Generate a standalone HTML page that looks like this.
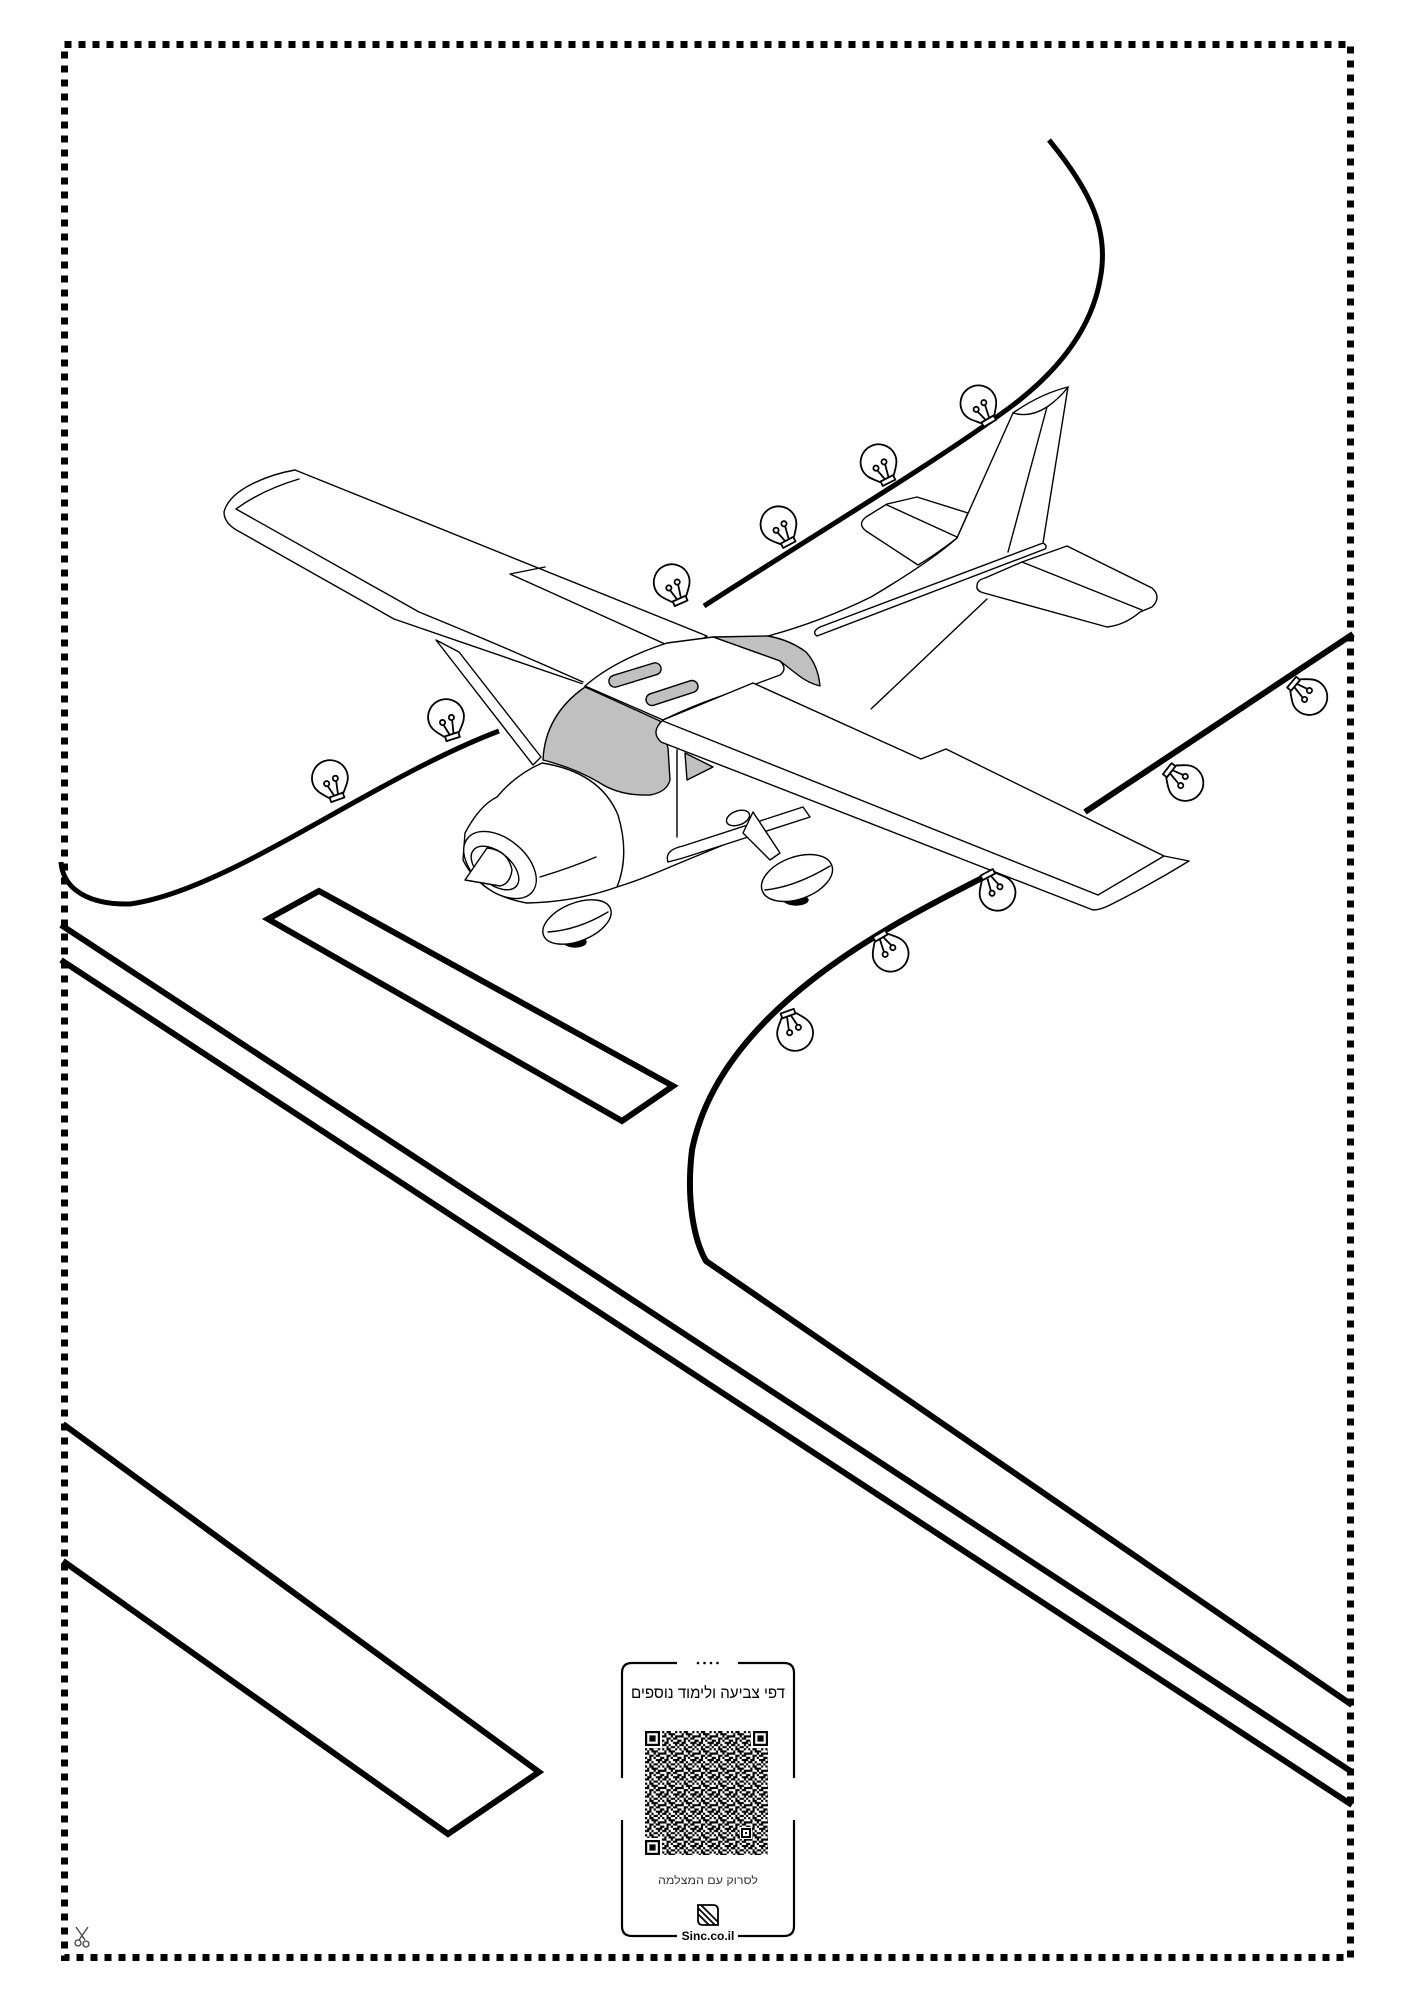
<!DOCTYPE html>
<html><head><meta charset="utf-8"><style>
html,body{margin:0;padding:0;background:#fff;}
svg{display:block;}
</style></head><body>
<svg width="1414" height="2000" viewBox="0 0 1414 2000" xmlns="http://www.w3.org/2000/svg">
<defs>
<pattern id="qr" x="645" y="1731" width="17.2" height="17.2" patternUnits="userSpaceOnUse">
<path transform="scale(2.15)" fill="#000" d="M0 0h1v1h-1z M2 0h2v1h-2z M6 0h1v1h-1z M1 1h1v1h-1z M3 1h3v1h-3z M0 2h2v1h-2z M4 2h1v1h-1z M6 2h2v1h-2z M2 3h2v1h-2z M5 3h2v1h-2z M0 4h1v1h-1z M2 4h1v1h-1z M4 4h1v1h-1z M7 4h1v1h-1z M1 5h2v1h-2z M5 5h3v1h-3z M0 6h2v1h-2z M3 6h1v1h-1z M6 6h1v1h-1z M2 7h1v1h-1z M4 7h2v1h-2z M7 7h1v1h-1z"/>
</pattern>
</defs>
<rect width="1414" height="2000" fill="#fff"/>

<!-- dotted border -->
<rect x="64.5" y="44.5" width="1286" height="1913" fill="none" stroke="#000" stroke-width="7" stroke-dasharray="7 7"/>

<!-- thick ground lines -->
<g fill="none" stroke="#000" stroke-width="6" stroke-linecap="butt" stroke-linejoin="miter">
<path d="M61,925 L1352,1772"/>
<path d="M61,960 L1352,1805"/>
<path d="M984,877 C890,925 720,1010 692,1150 C686,1200 694,1240 706,1261 L1352,1705"/>
<path d="M63,1424 L539,1772 L448,1834 L63,1561"/>
<path d="M268,919 L319,891 L673,1086 L622,1121 Z"/>
<path d="M1085,812 L1353,634"/>
<path stroke-width="5" d="M61,862 C63,890 90,905 130,904 C230,890 370,780 499,731"/>
</g>

<!-- plane -->
<g fill="#fff" stroke="#000" stroke-width="1.4" stroke-linejoin="round" stroke-linecap="round">
<!-- tail cone fill -->
<path stroke="none" d="M768,636 L871,597 L957,538 L1043,541 L1046,548 L987,599 L871,709 L760,700 Z"/>
<!-- left stabilizer -->
<path d="M887,504 L917,497 L968,513 L957,538 Q935,555 918,565 L866,531 Q857,524 866,517 Z"/>
<path fill="none" d="M887,505 L957,537"/>
<!-- tail cone lines -->
<path fill="none" d="M768,636 Q820,622 871,597 Q930,562 957,538"/>
<path d="M817,636 Q811,632 820,627 L1043,543 Q1048,546 1045,549 Z"/>
<path fill="none" d="M987,599 L871,709"/>
<!-- fin -->
<path stroke="none" d="M957,538 L1013,413 Q1040,394 1068,387 L1043,543 Z"/>
<path fill="none" d="M957,538 L1013,413 Q1040,394 1068,387 L1043,543"/>
<path fill="none" d="M1013,413 Q1030,418 1047,407 Q1060,398 1068,387 M1047,407 L1008,552"/>
<!-- right stabilizer -->
<path d="M977,586 Q977,580 985,578 L1022,562 L1067,546 L1152,588 Q1162,597 1152,607 L1140,612 Q1125,625 1107,627 L984,593 Q976,591 977,586 Z"/>
<path fill="none" d="M1022,562 L1142,610"/>

<!-- left wing -->
<path d="M295,470 L707,636 L640,680 L583,684 L394,619 L240,532 Q224,524 224,512 Q228,496 252,484 Q272,474 295,470 Z"/>
<path fill="none" d="M299,479 Q262,490 236,509 L419,612 Q500,645 583,682 M545,567 L510,574 L665,644"/>
<!-- strut -->
<path d="M436,640 L459,652 L541,757 L533,765 Z"/>

<!-- fuselage fill -->
<path stroke="none" d="M583,683 L667,643 L760,640 L871,709 L803,812 L670,867 L617,887 L527,903 L463,853 L465,833 L497,797 L542,763 Z"/>
<!-- rear window -->
<path fill="#c0c0c0" d="M713,637 L768,636 Q790,640 806,652 Q818,665 820,686 Q808,683 798,675 L780,661 Z"/>
<!-- windshield -->
<path fill="#c0c0c0" d="M585,687 L660,721 L668,748 L670,780 Q667,792 650,795 Q620,796 600,783 Q575,768 543,760 Q545,715 585,687 Z"/>
<!-- roof -->
<path d="M585,686 Q615,660 667,643 L713,637 L780,661 Q788,669 780,675 L745,688 Q700,702 663,720 Z"/>
<rect x="608" y="669" width="54" height="12" rx="6" fill="#c0c0c0" transform="rotate(-17 635 675)"/>
<rect x="645" y="687" width="54" height="12" rx="6" fill="#c0c0c0" transform="rotate(-18 672 693)"/>
<!-- under-wing gray -->
<path fill="#c0c0c0" d="M685,753 L713,767 L687,780 Z"/>
<path fill="none" d="M677,750 L677,837"/>

<!-- gear -->
<ellipse cx="738" cy="818" rx="12" ry="7" transform="rotate(-20 738 818)"/>
<path fill="none" d="M617,887 Q640,880 670,867 L803,812"/>
<path d="M668,862 Q664,850 683,846 L803,807 L810,817 L683,858 Z"/>
<path d="M753,812 L780,853 L770,860 L743,833 Z"/>
<ellipse cx="796" cy="900" rx="12" ry="5" fill="#000"/>
<ellipse cx="797" cy="878" rx="37" ry="21" transform="rotate(-20 797 878)"/>
<path fill="none" d="M765,890 Q795,887 830,866"/>

<!-- cowling -->
<ellipse cx="575" cy="942" rx="11" ry="5" fill="#000"/>
<ellipse cx="577" cy="922" rx="36" ry="19" transform="rotate(-22 577 922)"/>
<path fill="none" d="M548,932 Q578,930 608,912"/>
<path d="M542,763 Q600,772 618,815 Q630,855 617,887 Q575,902 527,903 Q480,895 463,860 L465,833 Q480,805 497,797 Q515,775 542,763 Z"/>
<ellipse cx="500" cy="865" rx="42" ry="26" transform="rotate(40 500 865)"/>
<ellipse cx="495" cy="868" rx="28" ry="16" transform="rotate(40 495 868)"/>
<path fill="none" d="M540,877 Q570,868 596,857"/>
<path d="M465,880 L487,848 Q508,850 512,870 Q510,884 500,886 Z"/>

<!-- right wing -->
<path d="M663,720 L753,683 L921,759 L946,749 L1164,856 L1189,861 Q1150,885 1110,905 Q1100,910 1093,910 L661,742 Q650,732 663,720 Z"/>
<path fill="none" d="M663,721 L1098,895 L1164,856"/>
</g>

<!-- top curve (over plane) -->
<path fill="none" stroke="#000" stroke-width="5" d="M1049,140 C1090,190 1110,230 1100,280 C1090,335 1050,380 998,416 C930,465 830,525 704,606"/>

<!-- bulbs -->
<g fill="#fff" stroke="#000" stroke-width="1.8" stroke-linejoin="round">
<g transform="translate(980,406) rotate(-30)"><path d="M-8,15 C-12,10 -18,5 -18,-3 A18,18 0 1 1 18,-3 C18,5 12,10 8,15 Z"/><path d="M-7,15 h14 v5 h-14 z"/><path fill="none" d="M-2,15 L-5,3 M2,15 L5,1"/><circle cx="-5" cy="1" r="2.6"/><circle cx="5" cy="-1" r="2.6"/></g>
<g transform="translate(880,465) rotate(-27)"><path d="M-8,15 C-12,10 -18,5 -18,-3 A18,18 0 1 1 18,-3 C18,5 12,10 8,15 Z"/><path d="M-7,15 h14 v5 h-14 z"/><path fill="none" d="M-2,15 L-5,3 M2,15 L5,1"/><circle cx="-5" cy="1" r="2.6"/><circle cx="5" cy="-1" r="2.6"/></g>
<g transform="translate(780,527) rotate(-28)"><path d="M-8,15 C-12,10 -18,5 -18,-3 A18,18 0 1 1 18,-3 C18,5 12,10 8,15 Z"/><path d="M-7,15 h14 v5 h-14 z"/><path fill="none" d="M-2,15 L-5,3 M2,15 L5,1"/><circle cx="-5" cy="1" r="2.6"/><circle cx="5" cy="-1" r="2.6"/></g>
<g transform="translate(673,585) rotate(-24)"><path d="M-8,15 C-12,10 -18,5 -18,-3 A18,18 0 1 1 18,-3 C18,5 12,10 8,15 Z"/><path d="M-7,15 h14 v5 h-14 z"/><path fill="none" d="M-2,15 L-5,3 M2,15 L5,1"/><circle cx="-5" cy="1" r="2.6"/><circle cx="5" cy="-1" r="2.6"/></g>
<g transform="translate(447,720) rotate(-18)"><path d="M-8,15 C-12,10 -18,5 -18,-3 A18,18 0 1 1 18,-3 C18,5 12,10 8,15 Z"/><path d="M-7,15 h14 v5 h-14 z"/><path fill="none" d="M-2,15 L-5,3 M2,15 L5,1"/><circle cx="-5" cy="1" r="2.6"/><circle cx="5" cy="-1" r="2.6"/></g>
<g transform="translate(331,781) rotate(-20)"><path d="M-8,15 C-12,10 -18,5 -18,-3 A18,18 0 1 1 18,-3 C18,5 12,10 8,15 Z"/><path d="M-7,15 h14 v5 h-14 z"/><path fill="none" d="M-2,15 L-5,3 M2,15 L5,1"/><circle cx="-5" cy="1" r="2.6"/><circle cx="5" cy="-1" r="2.6"/></g>
<g transform="translate(1183,781) rotate(128)"><path d="M-8,15 C-12,10 -18,5 -18,-3 A18,18 0 1 1 18,-3 C18,5 12,10 8,15 Z"/><path d="M-7,15 h14 v5 h-14 z"/><path fill="none" d="M-2,15 L-5,3 M2,15 L5,1"/><circle cx="-5" cy="1" r="2.6"/><circle cx="5" cy="-1" r="2.6"/></g>
<g transform="translate(1307,695) rotate(130)"><path d="M-8,15 C-12,10 -18,5 -18,-3 A18,18 0 1 1 18,-3 C18,5 12,10 8,15 Z"/><path d="M-7,15 h14 v5 h-14 z"/><path fill="none" d="M-2,15 L-5,3 M2,15 L5,1"/><circle cx="-5" cy="1" r="2.6"/><circle cx="5" cy="-1" r="2.6"/></g>
<g transform="translate(996,890) rotate(152)"><path d="M-8,15 C-12,10 -18,5 -18,-3 A18,18 0 1 1 18,-3 C18,5 12,10 8,15 Z"/><path d="M-7,15 h14 v5 h-14 z"/><path fill="none" d="M-2,15 L-5,3 M2,15 L5,1"/><circle cx="-5" cy="1" r="2.6"/><circle cx="5" cy="-1" r="2.6"/></g>
<g transform="translate(889,951) rotate(150)"><path d="M-8,15 C-12,10 -18,5 -18,-3 A18,18 0 1 1 18,-3 C18,5 12,10 8,15 Z"/><path d="M-7,15 h14 v5 h-14 z"/><path fill="none" d="M-2,15 L-5,3 M2,15 L5,1"/><circle cx="-5" cy="1" r="2.6"/><circle cx="5" cy="-1" r="2.6"/></g>
<g transform="translate(794,1030) rotate(160)"><path d="M-8,15 C-12,10 -18,5 -18,-3 A18,18 0 1 1 18,-3 C18,5 12,10 8,15 Z"/><path d="M-7,15 h14 v5 h-14 z"/><path fill="none" d="M-2,15 L-5,3 M2,15 L5,1"/><circle cx="-5" cy="1" r="2.6"/><circle cx="5" cy="-1" r="2.6"/></g>
</g>

<!-- QR card -->
<g fill="none" stroke="#000" stroke-width="2.2">
<path d="M677,1663 L632,1663 Q622,1663 622,1673 L622,1778"/>
<path d="M622,1820 L622,1926 Q622,1936 632,1936 L677,1936"/>
<path d="M738,1936 L784,1936 Q794,1936 794,1926 L794,1820"/>
<path d="M794,1778 L794,1673 Q794,1663 784,1663 L738,1663"/>
</g>
<g fill="#000"><circle cx="698" cy="1663" r="1.3"/><circle cx="704.5" cy="1663" r="1.3"/><circle cx="711" cy="1663" r="1.3"/><circle cx="717.5" cy="1663" r="1.3"/></g>
<text x="708" y="1698" text-anchor="middle" font-family="'Liberation Sans','DejaVu Sans',sans-serif" font-size="16" textLength="154" lengthAdjust="spacingAndGlyphs" fill="#000">דפי צביעה ולימוד נוספים</text>
<rect x="645" y="1731" width="123" height="124" fill="url(#qr)"/>
<g>
<rect x="644" y="1730" width="18" height="18" fill="#fff"/><rect x="645" y="1731" width="15" height="15" fill="#000"/><rect x="647.2" y="1733.2" width="10.6" height="10.6" fill="#fff"/><rect x="649.4" y="1735.4" width="6.2" height="6.2" fill="#000"/>
<rect x="751" y="1730" width="18" height="18" fill="#fff"/><rect x="753" y="1731" width="15" height="15" fill="#000"/><rect x="755.2" y="1733.2" width="10.6" height="10.6" fill="#fff"/><rect x="757.4" y="1735.4" width="6.2" height="6.2" fill="#000"/>
<rect x="644" y="1838" width="18" height="18" fill="#fff"/><rect x="645" y="1840" width="15" height="15" fill="#000"/><rect x="647.2" y="1842.2" width="10.6" height="10.6" fill="#fff"/><rect x="649.4" y="1844.4" width="6.2" height="6.2" fill="#000"/>
<rect x="740" y="1827" width="12" height="12" fill="#fff"/><rect x="741" y="1828" width="10" height="10" fill="#000"/><rect x="743" y="1830" width="6" height="6" fill="#fff"/><rect x="745" y="1832" width="2" height="2" fill="#000"/>
</g>
<text x="708" y="1884" text-anchor="middle" font-family="'Liberation Sans','DejaVu Sans',sans-serif" font-size="11" textLength="100" lengthAdjust="spacingAndGlyphs" fill="#333">לסרוק עם המצלמה</text>
<g fill="none" stroke="#000" stroke-width="1.8">
<path d="M698,1905 L713,1905 Q718,1905 718,1910 L718,1925 L703,1925 Q698,1925 698,1920 Z"/>
<path d="M698,1908 L715,1925 M701,1905 L718,1922 M698,1914 L709,1925"/>
</g>
<text x="708" y="1940" text-anchor="middle" font-family="'Liberation Sans','DejaVu Sans',sans-serif" font-size="12" font-weight="bold" fill="#000">Sinc.co.il</text>

<!-- scissors -->
<g fill="none" stroke="#444" stroke-width="1.3">
<path d="M76,1927 L85,1940 M88,1927 L79,1940"/>
<circle cx="78" cy="1943" r="3"/>
<circle cx="86" cy="1944" r="3"/>
</g>
</svg>
</body></html>
